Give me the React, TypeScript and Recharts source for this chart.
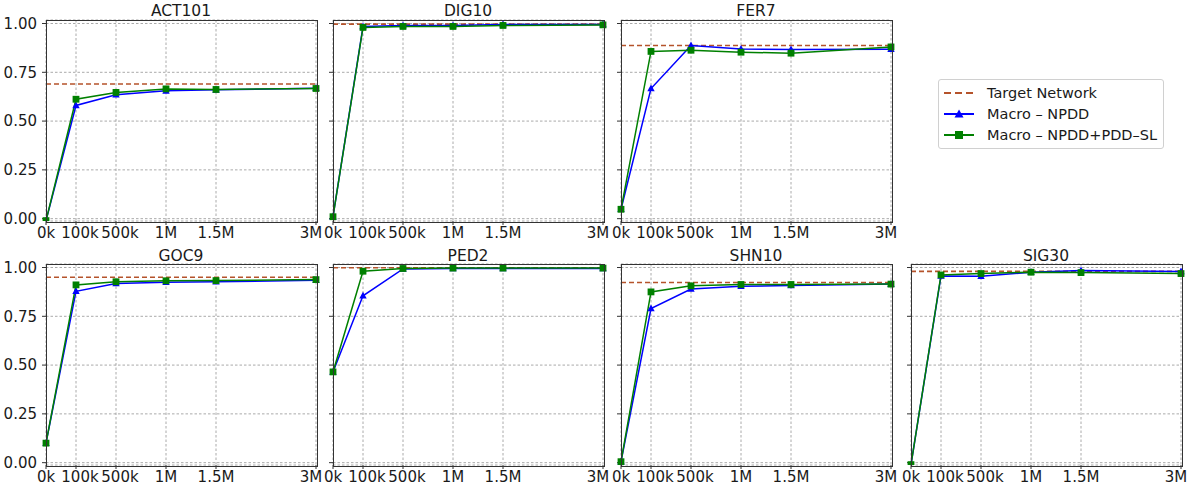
import React from 'react';
import { LineChart, Line, XAxis, YAxis, CartesianGrid, ReferenceLine } from 'recharts';

// x positions used by the original plot (uneven spacing) and their labels
const xTicks = [0, 3, 7, 12, 17, 27];
const xLabels = ['0k', '100k', '500k', '1M', '1.5M', '3M'];
const yTicks = [0, 0.25, 0.5, 0.75, 1.0];

const ACT101_NPDD = [-0.01, 0.58, 0.635, 0.655, 0.66, 0.668];
const ACT101_SL = [-0.01, 0.612, 0.647, 0.665, 0.662, 0.667];
const DIG10_NPDD = [0.01, 0.985, 0.99, 0.99, 0.995, 0.995];
const DIG10_SL = [0.01, 0.98, 0.985, 0.985, 0.99, 0.993];
const FER7_NPDD = [0.048, 0.667, 0.887, 0.87, 0.867, 0.868];
const FER7_SL = [0.048, 0.857, 0.863, 0.853, 0.848, 0.88];
const GOC9_NPDD = [0.1, 0.878, 0.918, 0.925, 0.927, 0.935];
const GOC9_SL = [0.1, 0.911, 0.927, 0.932, 0.933, 0.938];
const PED2_NPDD = [0.465, 0.855, 0.993, 0.995, 0.995, 0.995];
const PED2_SL = [0.465, 0.981, 0.995, 0.997, 0.997, 0.997];
const SHN10_NPDD = [0.005, 0.79, 0.89, 0.904, 0.908, 0.915];
const SHN10_SL = [0.005, 0.875, 0.906, 0.913, 0.913, 0.915];
const SIG30_NPDD = [-0.01, 0.957, 0.955, 0.976, 0.985, 0.98];
const SIG30_SL = [-0.01, 0.962, 0.969, 0.976, 0.974, 0.969];

const targets = {
  ACT101: 0.69,
  DIG10: 0.997,
  FER7: 0.887,
  GOC9: 0.95,
  PED2: 0.999,
  SHN10: 0.923,
  SIG30: 0.98,
};

const FONT = '"DejaVu Sans", sans-serif';
const TARGET_COLOR = '#b5532b';
const NPDD_COLOR = '#0000ff';
const SL_COLOR = '#008000';

const colLeft = [46, 333, 621, 911];
const rowTop = [20, 264];
const BOX_W = 270;
const BOX_H = 201;
const Y_AXIS_W = 46;
const TOP_M = 20;
const X_AXIS_H = 24;
const RIGHT_M = 16;
// small horizontal nudges of the x labels, as in the original figure
const xLabelShift = [0, 4, 4, 0, 0, -5];

const panels = [
  { name: 'ACT101', npdd: ACT101_NPDD, sl: ACT101_SL, row: 0, col: 0 },
  { name: 'DIG10', npdd: DIG10_NPDD, sl: DIG10_SL, row: 0, col: 1 },
  { name: 'FER7', npdd: FER7_NPDD, sl: FER7_SL, row: 0, col: 2 },
  { name: 'GOC9', npdd: GOC9_NPDD, sl: GOC9_SL, row: 1, col: 0 },
  { name: 'PED2', npdd: PED2_NPDD, sl: PED2_SL, row: 1, col: 1 },
  { name: 'SHN10', npdd: SHN10_NPDD, sl: SHN10_SL, row: 1, col: 2 },
  { name: 'SIG30', npdd: SIG30_NPDD, sl: SIG30_SL, row: 1, col: 3 },
];

const Triangle = (props: any) => {
  const { cx, cy, index } = props;
  if (cx == null || cy == null) return <g key={index} />;
  return (
    <polygon
      key={index}
      points={`${cx},${cy - 4} ${cx - 3.7},${cy + 2.8} ${cx + 3.7},${cy + 2.8}`}
      fill={NPDD_COLOR}
    />
  );
};

const Square = (props: any) => {
  const { cx, cy, index } = props;
  if (cx == null || cy == null) return <g key={index} />;
  return <rect key={index} x={cx - 3.4} y={cy - 3.4} width={6.8} height={6.8} fill={SL_COLOR} />;
};

const XTick = (props: any) => {
  const { x, y, payload } = props;
  const i = xTicks.indexOf(payload.value);
  return (
    <text
      x={x + xLabelShift[i]}
      y={y}
      dy="0.7em"
      textAnchor="middle"
      fontSize={15}
      fontFamily={FONT}
      fill="#1a1a1a"
    >
      {xLabels[i]}
    </text>
  );
};

const YTickLabel = (props: any) => {
  const { x, y, payload } = props;
  return (
    <text x={x} y={y} dy="0.355em" textAnchor="end" fontSize={15} fontFamily={FONT} fill="#1a1a1a">
      {payload.value.toFixed(2)}
    </text>
  );
};

const NoTick = () => <g />;

const Panel = ({ p }: { p: (typeof panels)[number] }) => {
  const data = xTicks.map((x, i) => ({ x, npdd: p.npdd[i], sl: p.sl[i] }));
  const left = colLeft[p.col];
  const top = rowTop[p.row];
  return (
    <>
      <div
        style={{
          position: 'absolute',
          left: left,
          width: BOX_W,
          top: top - (p.row === 0 ? 17 : 16),
          textAlign: 'center',
          fontFamily: FONT,
          fontSize: 15.5,
          lineHeight: '16px',
          color: '#1a1a1a',
        }}
      >
        {p.name}
      </div>
      <div style={{ position: 'absolute', left: left - Y_AXIS_W, top: top - TOP_M }}>
        <LineChart
          width={Y_AXIS_W + BOX_W + RIGHT_M}
          height={TOP_M + BOX_H + X_AXIS_H}
          data={data}
          margin={{ top: TOP_M, right: RIGHT_M, bottom: 0, left: 0 }}
          style={{ overflow: 'visible' }}
        >
          <CartesianGrid stroke="#a0a0a0" strokeDasharray="2.5 2" strokeWidth={0.9} />
          <XAxis
            dataKey="x"
            type="number"
            domain={[0, 27]}
            ticks={xTicks}
            interval={0}
            height={X_AXIS_H}
            tickSize={4}
            tickMargin={2}
            axisLine={false}
            tickLine={{ stroke: '#333' }}
            tick={<XTick />}
          />
          <YAxis
            type="number"
            domain={[-0.012, 1.018]}
            ticks={yTicks}
            width={Y_AXIS_W}
            tickSize={4}
            tickMargin={5}
            axisLine={false}
            tickLine={{ stroke: '#333' }}
            tick={p.col === 0 ? <YTickLabel /> : <NoTick />}
            allowDataOverflow
          />
          <ReferenceLine
            y={targets[p.name as keyof typeof targets]}
            stroke={TARGET_COLOR}
            strokeWidth={1.6}
            strokeDasharray="5 3"
          />
          <Line
            dataKey="npdd"
            stroke={NPDD_COLOR}
            strokeWidth={1.5}
            dot={Triangle}
            activeDot={false}
            isAnimationActive={false}
          />
          <Line
            dataKey="sl"
            stroke={SL_COLOR}
            strokeWidth={1.5}
            dot={Square}
            activeDot={false}
            isAnimationActive={false}
          />
        </LineChart>
      </div>
      <div
        style={{
          position: 'absolute',
          left: left - 0.5,
          top: top - 0.5,
          width: BOX_W,
          height: BOX_H,
          border: '1px solid #333',
          pointerEvents: 'none',
        }}
      />
    </>
  );
};

const legendItems = [
  { label: 'Target Network', color: TARGET_COLOR, dash: '7 4', marker: 'none' },
  { label: 'Macro – NPDD', color: NPDD_COLOR, dash: undefined, marker: 'triangle' },
  { label: 'Macro – NPDD+PDD–SL', color: SL_COLOR, dash: undefined, marker: 'square' },
];

const LegendBox = () => (
  <div
    style={{
      position: 'absolute',
      left: 938,
      top: 79,
      width: 224,
      height: 68,
      border: '1px solid #d0d0d0',
      borderRadius: 3,
      background: '#fff',
      fontFamily: FONT,
      fontSize: 14.5,
      color: '#1a1a1a',
    }}
  >
    {legendItems.map((it, i) => (
      <div
        key={it.label}
        style={{ position: 'absolute', left: 4, top: 4 + i * 21, height: 18, display: 'flex', alignItems: 'center' }}
      >
        <svg width={32} height={18} style={{ marginRight: 12 }}>
          <line x1={1} x2={31} y1={9} y2={9} stroke={it.color} strokeWidth={2} strokeDasharray={it.dash} />
          {it.marker === 'triangle' && <polygon points="16,4.5 11.5,12.5 20.5,12.5" fill={it.color} />}
          {it.marker === 'square' && <rect x={12} y={5} width={8} height={8} fill={it.color} />}
        </svg>
        <span style={{ whiteSpace: 'nowrap' }}>{it.label}</span>
      </div>
    ))}
  </div>
);

export default function App() {
  return (
    <div
      style={{
        position: 'absolute',
        left: 0,
        top: 0,
        width: 1195,
        height: 489,
        background: '#fff',
        overflow: 'hidden',
      }}
    >
      {panels.map((p) => (
        <Panel key={p.name} p={p} />
      ))}
      <LegendBox />
    </div>
  );
}
